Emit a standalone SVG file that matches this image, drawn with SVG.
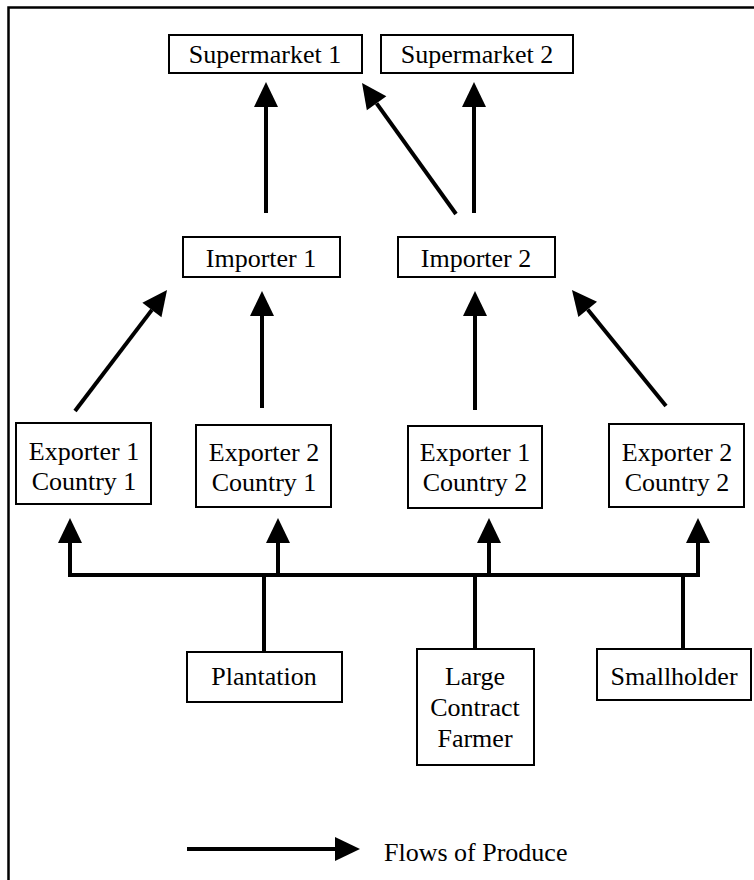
<svg xmlns="http://www.w3.org/2000/svg" width="754" height="880" viewBox="0 0 754 880">
<style>
.box{fill:#fff;stroke:#000;stroke-width:2}
.t{font-family:"Liberation Serif","Times New Roman",serif;font-size:26px;fill:#000;text-anchor:middle}
.c{stroke:#000;stroke-width:4;fill:none}
</style>
<defs>
<marker id="ah" markerUnits="userSpaceOnUse" markerWidth="26" markerHeight="26" refX="0" refY="12" orient="auto" overflow="visible">
<path d="M0,0 L25,12 L0,24 Z" fill="#000"/>
</marker>
</defs>
<rect x="8.5" y="7.5" width="800" height="900" fill="#fff" stroke="#000" stroke-width="2.5"/>
<g id="supermarket1"><rect class="box" x="169" y="35" width="193" height="38"/><text class="t" x="265" y="63">Supermarket 1</text></g>
<g id="supermarket2"><rect class="box" x="381" y="35" width="192" height="38"/><text class="t" x="477" y="63">Supermarket 2</text></g>
<g id="importer1"><rect class="box" x="183" y="237" width="157" height="40"/><text class="t" x="261" y="267">Importer 1</text></g>
<g id="importer2"><rect class="box" x="398" y="237" width="157" height="40"/><text class="t" x="476" y="267">Importer 2</text></g>
<g id="exp1c1"><rect class="box" x="16" y="423" width="135" height="81"/><text class="t" x="84" y="460">Exporter 1</text><text class="t" x="84" y="490">Country 1</text></g>
<g id="exp2c1"><rect class="box" x="196" y="425" width="135" height="82"/><text class="t" x="264" y="461">Exporter 2</text><text class="t" x="264" y="491">Country 1</text></g>
<g id="exp1c2"><rect class="box" x="408" y="426" width="134" height="82"/><text class="t" x="475" y="461">Exporter 1</text><text class="t" x="475" y="491">Country 2</text></g>
<g id="exp2c2"><rect class="box" x="609" y="424" width="135" height="83"/><text class="t" x="677" y="461">Exporter 2</text><text class="t" x="677" y="491">Country 2</text></g>
<g id="plantation"><rect class="box" x="187" y="652" width="155" height="50"/><text class="t" x="264" y="685">Plantation</text></g>
<g id="largecontractfarmer"><rect class="box" x="417" y="649" width="117" height="116"/><text class="t" x="475" y="685">Large</text><text class="t" x="475" y="716">Contract</text><text class="t" x="475" y="747">Farmer</text></g>
<g id="smallholder"><rect class="box" x="597" y="649" width="154" height="51"/><text class="t" x="674" y="685">Smallholder</text></g>
<g id="connectors">
<line class="c" x1="266" y1="213" x2="266" y2="107" marker-end="url(#ah)"/>
<line class="c" x1="474" y1="213" x2="474" y2="107" marker-end="url(#ah)"/>
<line class="c" x1="456" y1="214" x2="376.6" y2="103.3" marker-end="url(#ah)"/>
<line class="c" x1="75" y1="411" x2="151.9" y2="309.9" marker-end="url(#ah)"/>
<line class="c" x1="262" y1="408" x2="262" y2="316" marker-end="url(#ah)"/>
<line class="c" x1="475" y1="410" x2="475" y2="316" marker-end="url(#ah)"/>
<line class="c" x1="666" y1="406" x2="587.7" y2="309.4" marker-end="url(#ah)"/>
<line class="c" x1="68" y1="575" x2="700" y2="575"/>
<line class="c" x1="70" y1="577" x2="70" y2="543" marker-end="url(#ah)"/>
<line class="c" x1="278" y1="577" x2="278" y2="543" marker-end="url(#ah)"/>
<line class="c" x1="489" y1="577" x2="489" y2="543" marker-end="url(#ah)"/>
<line class="c" x1="698" y1="577" x2="698" y2="543" marker-end="url(#ah)"/>
<line class="c" x1="264" y1="652" x2="264" y2="575"/>
<line class="c" x1="475" y1="649" x2="475" y2="575"/>
<line class="c" x1="683" y1="649" x2="683" y2="575"/>
</g>
<g id="legend">
<line class="c" x1="187" y1="849" x2="335" y2="849" marker-end="url(#ah)"/>
<text class="t" x="384" y="861" style="text-anchor:start">Flows of Produce</text>
</g>
</svg>
